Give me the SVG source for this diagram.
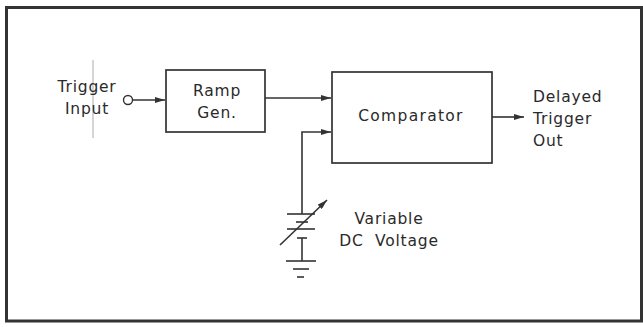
<svg xmlns="http://www.w3.org/2000/svg" width="643" height="327" viewBox="0 0 643 327">
<style>
.t{font-family:"DejaVu Sans","Liberation Sans",sans-serif;font-size:15.5px;fill:#2a2a2a;letter-spacing:0.8px}
.b{fill:#fff;stroke:#333;stroke-width:1.7}
.w{fill:none;stroke:#333;stroke-width:1.6}
</style>
<defs>
<marker id="ah" viewBox="0 0 10 6" refX="10" refY="3" markerWidth="10" markerHeight="6" markerUnits="userSpaceOnUse" orient="auto">
<path d="M0,0 L10,3 L0,6 Z" fill="#333"/>
</marker>
</defs>
<rect x="6.5" y="7.5" width="635" height="313.5" fill="#fff" stroke="#333" stroke-width="3"/>
<line x1="93" y1="60" x2="93" y2="138" stroke="#888" stroke-width="0.7"/>
<g id="trigger-input">
<text class="t" x="87" y="92" text-anchor="middle">Trigger</text>
<text class="t" x="87" y="114" text-anchor="middle">Input</text>
<circle cx="128" cy="100" r="4.5" fill="#fff" stroke="#333" stroke-width="1.4"/>
</g>
<g id="ramp-gen">
<rect class="b" x="166" y="70" width="99" height="62"/>
<text class="t" x="217" y="96" text-anchor="middle">Ramp</text>
<text class="t" x="217" y="118" text-anchor="middle">Gen.</text>
</g>
<g id="comparator">
<rect class="b" x="332" y="72" width="160" height="91"/>
<text class="t" x="411" y="121" text-anchor="middle" style="letter-spacing:1.3px">Comparator</text>
</g>
<g id="delayed-trigger-out">
<text class="t" x="533" y="102">Delayed</text>
<text class="t" x="533" y="124">Trigger</text>
<text class="t" x="533" y="146">Out</text>
</g>
<g id="variable-dc-voltage">
<line class="w" x1="287" y1="214" x2="315" y2="214"/>
<line class="w" x1="296" y1="222" x2="308" y2="222"/>
<line class="w" x1="287" y1="229" x2="315" y2="229"/>
<line class="w" x1="297" y1="238" x2="307" y2="238"/>
<line class="w" x1="302" y1="238" x2="302" y2="261"/>
<line class="w" x1="286" y1="261" x2="316" y2="261"/>
<line class="w" x1="293" y1="269" x2="309" y2="269"/>
<line class="w" x1="297" y1="277" x2="304" y2="277"/>
<line class="w" x1="280" y1="245" x2="327" y2="200" marker-end="url(#ah)"/>
<text class="t" x="389" y="224" text-anchor="middle">Variable</text>
<text class="t" x="389" y="246" text-anchor="middle" xml:space="preserve">DC  Voltage</text>
</g>
<g id="connectors">
<line class="w" x1="132.5" y1="100" x2="165" y2="100" marker-end="url(#ah)"/>
<line class="w" x1="265" y1="98" x2="331" y2="98" marker-end="url(#ah)"/>
<polyline class="w" points="302,214 302,132 331,132" marker-end="url(#ah)"/>
<line class="w" x1="492" y1="117" x2="524" y2="117" marker-end="url(#ah)"/>
</g>
</svg>
